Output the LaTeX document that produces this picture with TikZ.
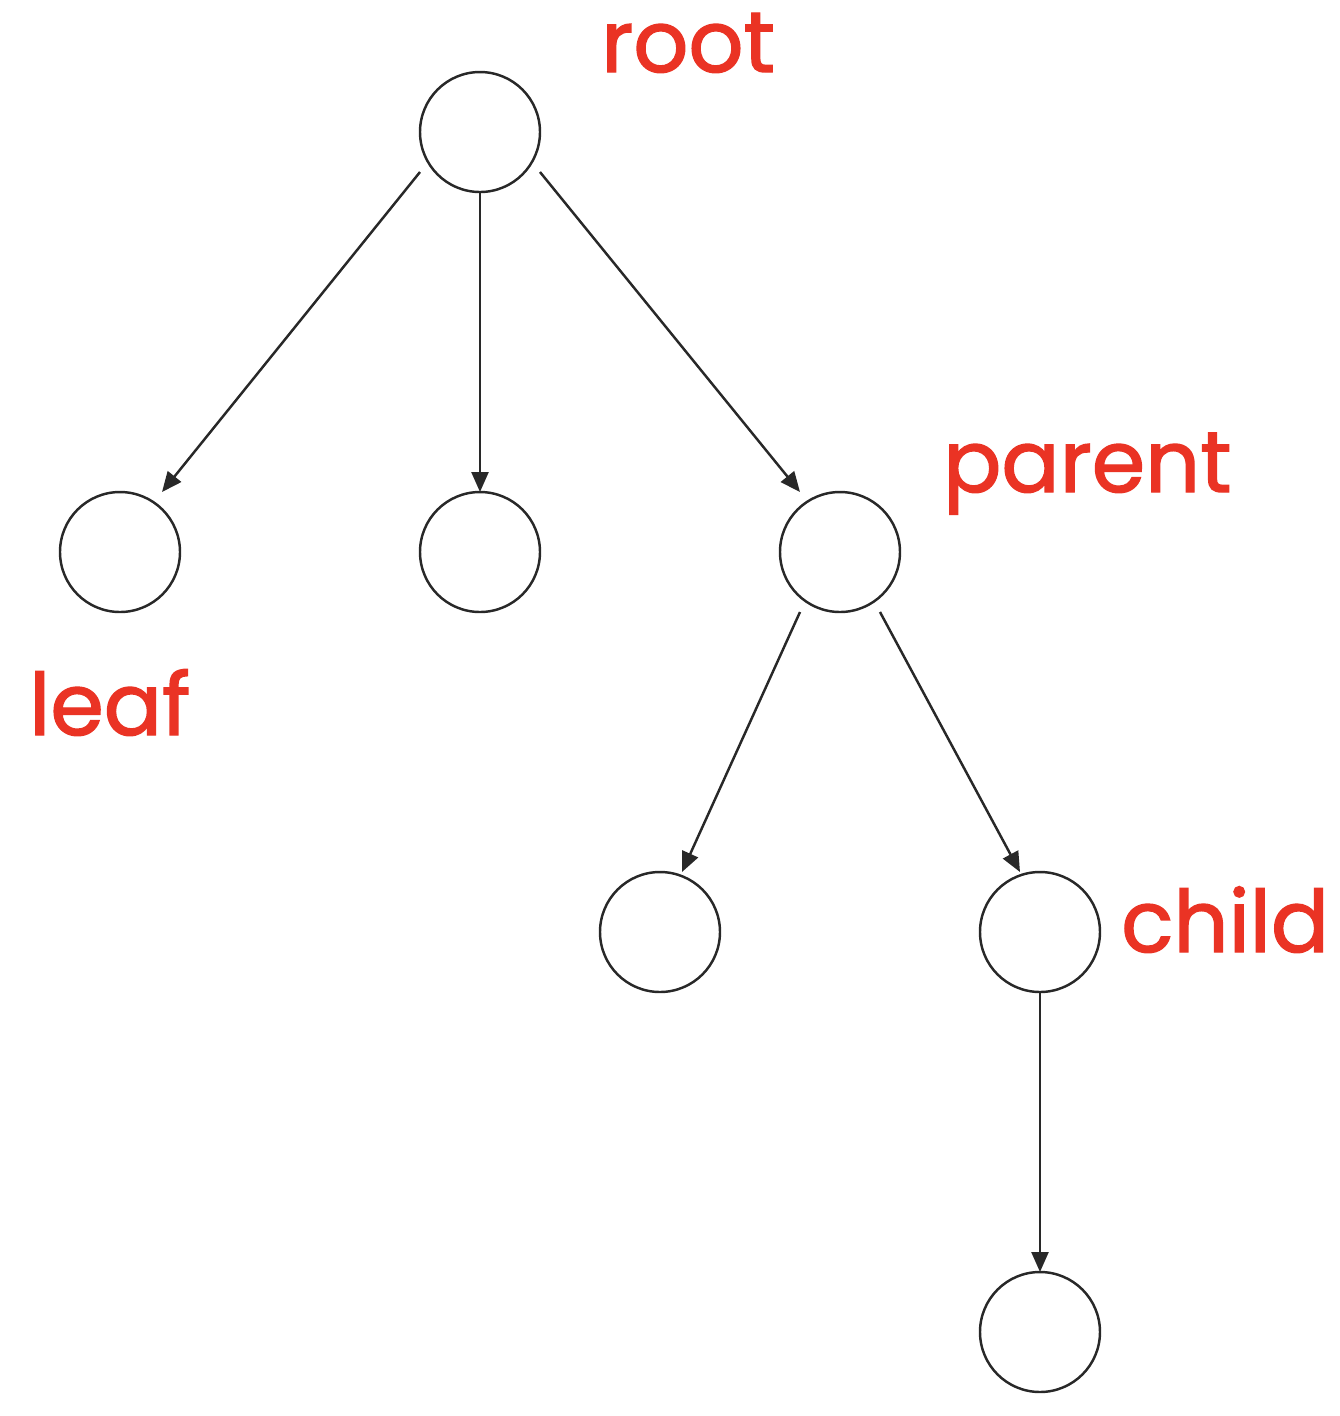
\documentclass[tikz,border=0pt]{standalone}
\usepackage{fontspec}
\setmainfont{Poppins}
\newfontfamily\tagfont{Poppins}[FakeBold=1.6]
\usetikzlibrary{arrows.meta}
\definecolor{labelred}{RGB}{234,51,36}
\definecolor{treegray}{RGB}{40,40,40}

\begin{document}
\begin{tikzpicture}[shorten >=0pt,-{Triangle[length=0.2cm,width=0.17cm]},draw=treegray,line width=0.7pt]
    \tikzstyle{vertex}=[circle,draw=treegray,line width=0.7pt,minimum size=1.2cm,inner sep=0pt,outer sep=0pt]
    \tikzstyle{tag}=[text=labelred,anchor=base west,inner sep=0pt,font=\fontsize{24.5}{29}\tagfont]

    \useasboundingbox (0,0) rectangle (13.4,-14.16);

    % Draw the tree nodes
    \node[vertex] (root) at (4.8,-1.32) {};
    \foreach \name / \x in {leaf/1.2,mid/4.8,parent/8.4}
        \node[vertex] (\name) at (\x,-5.52) {};
    \foreach \name / \x in {other/6.6,child/10.4}
        \node[vertex] (\name) at (\x,-9.32) {};
    \node[vertex] (last) at (10.4,-13.32) {};

    % Connect root and its children
    \path ([yshift=-0.4cm]root.west) edge ([xshift=0.42cm]leaf.north);
    \path (root.south) edge (mid.north);
    \path ([yshift=-0.4cm]root.east) edge ([xshift=-0.4cm]parent.north);

    % Connect parent and its children
    \path ([xshift=-0.4cm]parent.south) edge ([xshift=0.22cm]other.north);
    \path ([xshift=0.4cm]parent.south) edge ([xshift=-0.2cm]child.north);
    \path (child.south) edge (last.north);

    % Annotate the nodes
    \node[tag] (root-tag) at (6.0,-0.72) {root};
    \node[tag] (parent-tag) at (9.42,-4.92) {parent};
    \node[tag] (leaf-tag) at (0.28,-7.35) {leaf};
    \node[tag] (child-tag) at (11.2,-9.52) {child};
\end{tikzpicture}
\end{document}
